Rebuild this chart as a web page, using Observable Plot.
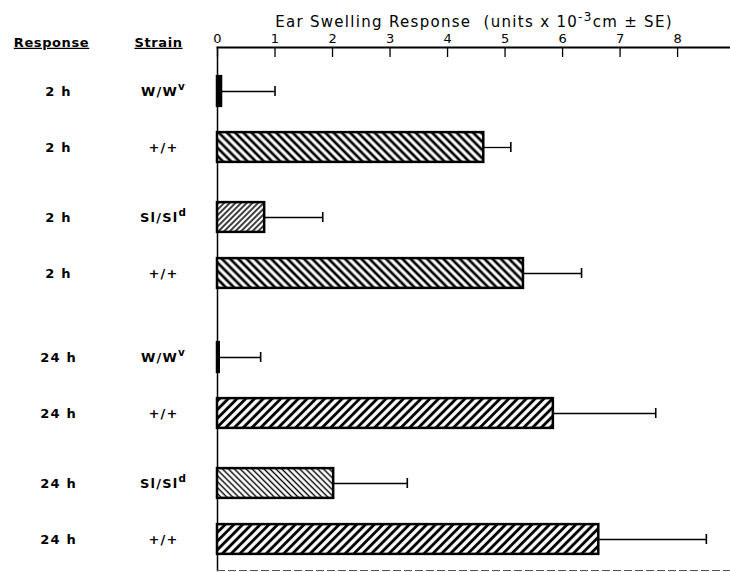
<!DOCTYPE html>
<html>
<head>
<meta charset="utf-8">
<script src="https://cdn.jsdelivr.net/npm/d3@7"></script>
<script src="https://cdn.jsdelivr.net/npm/@observablehq/plot@0.6"></script>
<style>
  html, body { margin: 0; padding: 0; background: #fff; }
  #chart svg { display: block; }
</style>
</head>
<body>
<div id="chart"></div>
<script>
// ---- data ----
const responses = ["2 h", "2 h", "2 h", "2 h", "24 h", "24 h", "24 h", "24 h"];
const strains   = ["W/Wᵛ", "+/+", "Sl/Slᵈ", "+/+", "W/Wᵛ", "+/+", "Sl/Slᵈ", "+/+"];
const means     = [0.07, 4.63, 0.82, 5.32, 0.03, 5.84, 2.02, 6.63];
const errors    = [0.93, 0.47, 1.01, 1.01, 0.72, 1.78, 1.28, 1.87];
const xTicks    = [0, 1, 2, 3, 4, 5, 6, 7, 8];
const title     = "Ear Swelling Response  (units x 10⁻³cm ± SE)";

// ---- table ----
const rows = responses.map((r, i) => ({
  id: "row" + i, response: r, strain: strains[i], mean: means[i], se: errors[i]
}));

// hatch style per (strain, response)
function hatchFor(d) {
  if (d.strain.startsWith("W/")) return "black";
  if (d.strain.startsWith("Sl")) return d.response === "2 h" ? "url(#fwdFine)" : "url(#backFine)";
  return d.response === "2 h" ? "url(#back)" : "url(#fwd)";
}

// slot layout: pairs close together, groups further apart
const slotGaps = [0, 4, 5, 4, 6, 4, 5, 4];
const yDomain = [];
rows.forEach((d, i) => {
  for (let k = 0; k < slotGaps[i] - 1; k++) yDomain.push(`gap${i}-${k}`);
  yDomain.push(d.id);
});
const step = 14.25;
const barH = 30;
const inset = -(barH - step) / 2;

const font = "'DejaVu Sans', sans-serif";

const chart = Plot.plot({
  width: 730,
  height: 572,
  marginLeft: 217,
  marginRight: 0,
  marginTop: 47,
  marginBottom: 2,
  style: { fontFamily: font, fontSize: "14px", background: "white", color: "black" },
  x: { domain: [0, 8.92], axis: null, label: null },
  y: { type: "band", domain: yDomain, range: [87 - step / 2, 543 + step / 2], padding: 0, axis: null },
  color: { type: "identity" },
  marks: [
    // top axis
    Plot.axisX(xTicks, { anchor: "top", tickSize: 0, tickPadding: 5, fontSize: 13, label: null, tickFormat: d => String(d) }),
    Plot.axisX(xTicks, { anchor: "top", tickSize: -9, text: null, label: null, strokeWidth: 1.3 }),
    Plot.frame({ anchor: "top", strokeWidth: 1.8 }),
    Plot.frame({ anchor: "left", strokeWidth: 1.5 }),
    Plot.frame({ anchor: "bottom", strokeWidth: 1, stroke: "#555", strokeDasharray: "7,4" }),
    // bars
    Plot.barX(rows, {
      y: "id", x: "mean", fill: hatchFor, stroke: "black", strokeWidth: 2.5,
      insetTop: inset, insetBottom: inset
    }),
    // error bars
    Plot.ruleY(rows, { y: "id", x1: "mean", x2: d => d.mean + d.se, strokeWidth: 1.3 }),
    Plot.tickX(rows, { y: "id", x: d => d.mean + d.se, insetTop: 2, insetBottom: 2, strokeWidth: 1.6 }),
    // row labels
    Plot.text(rows, { y: "id", text: "response", frameAnchor: "left", dx: -159, textAnchor: "middle", fontSize: 13, fontWeight: 700, className: "lbl" }),
    Plot.text(rows, { y: "id", text: "strain", frameAnchor: "left", dx: -54, textAnchor: "middle", fontSize: 13, fontWeight: 700, className: "lbl" }),
    // column headers
    Plot.text(["Response"], { frameAnchor: "top-left", dx: -166, dy: -10, text: d => d, textAnchor: "middle", fontSize: 13, fontWeight: 700, className: "hdr" }),
    Plot.text(["Strain"], { frameAnchor: "top-left", dx: -59, dy: -10, text: d => d, textAnchor: "middle", fontSize: 13, fontWeight: 700, className: "hdr" }),
    // title
    Plot.text([title], { frameAnchor: "top", dy: -31, text: d => d, textAnchor: "middle", fontSize: 15, className: "ttl" })
  ]
});

// hatch patterns
const defs = `
<defs>
  <pattern id="back" patternUnits="userSpaceOnUse" width="5.8" height="5.8" patternTransform="rotate(-45)">
    <rect width="5.8" height="5.8" fill="white"/>
    <line x1="2.9" y1="0" x2="2.9" y2="5.8" stroke="black" stroke-width="2.7"/>
  </pattern>
  <pattern id="fwd" patternUnits="userSpaceOnUse" width="6.2" height="6.2" patternTransform="rotate(45)">
    <rect width="6.2" height="6.2" fill="white"/>
    <line x1="3.1" y1="0" x2="3.1" y2="6.2" stroke="black" stroke-width="2.9"/>
  </pattern>
  <pattern id="fwdFine" patternUnits="userSpaceOnUse" width="4" height="4" patternTransform="rotate(45)">
    <rect width="4" height="4" fill="white"/>
    <line x1="2" y1="0" x2="2" y2="4" stroke="black" stroke-width="1.5"/>
  </pattern>
  <pattern id="backFine" patternUnits="userSpaceOnUse" width="4.2" height="4.2" patternTransform="rotate(-45)">
    <rect width="4.2" height="4.2" fill="white"/>
    <line x1="2.1" y1="0" x2="2.1" y2="4.2" stroke="black" stroke-width="1.4"/>
  </pattern>
</defs>`;
chart.insertAdjacentHTML("afterbegin", defs);

const svg = d3.select(chart);

// letter spacing to mimic the wide lettering of the original
svg.selectAll(".lbl text").style("letter-spacing", "1.2px");
svg.selectAll(".hdr text").style("letter-spacing", "0.6px")
  .style("text-decoration", "underline")
  .style("text-decoration-thickness", "2.5px")
  .style("text-underline-offset", "4px");
svg.selectAll(".ttl text").style("letter-spacing", "1.3px");

// render modifier-letter superscripts as real raised tspans
const supMap = { "ᵛ": "v", "ᵈ": "d", "⁻³": "-3" };
svg.selectAll("text").each(function () {
  const s = this.textContent;
  const m = s.match(/^(.*?)(ᵛ|ᵈ|⁻³)(.*)$/);
  if (!m) return;
  const t = d3.select(this);
  t.text(null);
  t.append("tspan").text(m[1]);
  t.append("tspan").attr("dy", "-0.5em").attr("font-size", "0.8em").text(supMap[m[2]]);
  if (m[3]) t.append("tspan").attr("dy", "0.4em").text(m[3]);
});

document.getElementById("chart").appendChild(chart);
</script>
</body>
</html>
